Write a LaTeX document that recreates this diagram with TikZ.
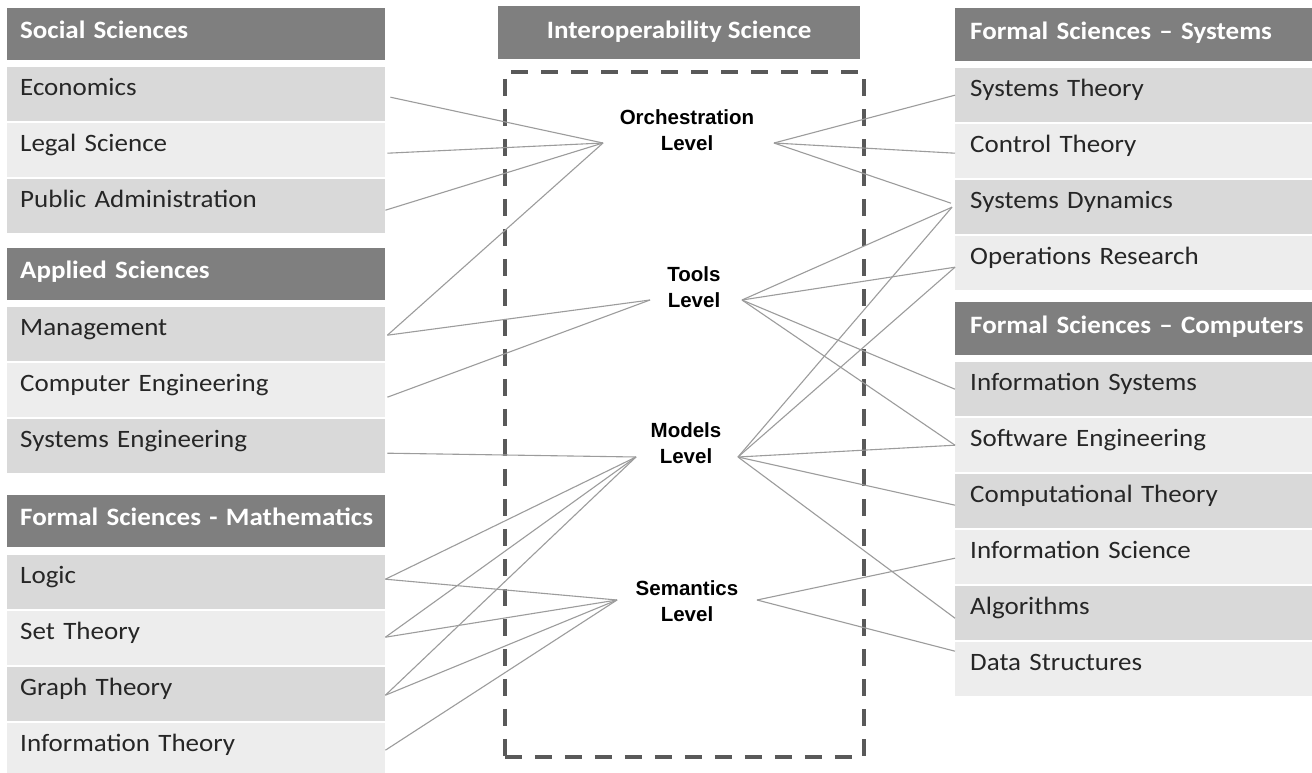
\documentclass[tikz,border=0pt]{standalone}
\usepackage{fontspec}
\setmainfont{Carlito}[FakeStretch=1.08]
\newfontfamily\lvlfont{Liberation Sans}
\usetikzlibrary{calc}
\definecolor{hdrgray}{HTML}{7F7F7F}
\definecolor{rowdark}{HTML}{D9D9D9}
\definecolor{rowlight}{HTML}{EDEDED}
\definecolor{linkgray}{HTML}{9C9C9C}
\definecolor{dashgray}{HTML}{595959}
\begin{document}
\begin{tikzpicture}[x=1pt,y=-1pt,
  bodyfont/.style={font=\fontsize{25}{30}\selectfont},
  cell/.style={anchor=north west, inner ysep=0pt, text height=28pt, text depth=26pt, align=left, bodyfont},
  lcell/.style={cell, minimum width=378pt, text width=352pt, inner xsep=13pt},
  rcell/.style={cell, minimum width=357pt, text width=327pt, inner xsep=15pt},
  dark/.style={fill=rowdark, text=black!85},
  light/.style={fill=rowlight, text=black!85},
  hdr/.style={fill=hdrgray, text=white, font=\fontsize{25}{30}\selectfont\bfseries, text height=30pt, text depth=22pt},
  lvl/.style={align=center, font=\lvlfont\bfseries\fontsize{20.5}{26}\selectfont, inner sep=0pt},
  conn/.style={draw=linkgray, line width=1.1pt},
  dashbox/.style={draw=dashgray, line width=3.8pt, dash pattern=on 17pt off 13pt}
]
\useasboundingbox (0,0) rectangle (1312,773);
\fill[white] (0,0) rectangle (1312,773);

% ---------------- left column ----------------
\node[lcell,hdr]   (soc)   at (7,8)   {\mbox{Social Sciences}};
\node[lcell,dark]  (econ)  at (7,67)  {Economics};
\node[lcell,light] (legal) at (7,123) {Legal Science};
\node[lcell,dark]  (pa)    at (7,179) {Public Administration};

\node[lcell,hdr]   (app)   at (7,248) {\mbox{Applied Sciences}};
\node[lcell,dark]  (mgmt)  at (7,307) {Management};
\node[lcell,light] (ceng)  at (7,363) {Computer Engineering};
\node[lcell,dark]  (seng)  at (7,419) {Systems Engineering};

\node[lcell,hdr]   (math)  at (7,495) {\mbox{Formal Sciences - Mathematics}};
\node[lcell,dark]  (logic) at (7,555) {Logic};
\node[lcell,light] (set)   at (7,611) {Set Theory};
\node[lcell,dark]  (graph) at (7,667) {Graph Theory};
\node[lcell,light] (infot) at (7,723) {Information Theory};

% ---------------- right column ----------------
\node[rcell,hdr,text height=31pt,text depth=22pt] (sys)   at (955,8)   {\mbox{Formal Sciences -- Systems}};
\node[rcell,dark]  (st)    at (955,68)  {Systems Theory};
\node[rcell,light] (ct)    at (955,124) {Control Theory};
\node[rcell,dark]  (sd)    at (955,180) {Systems Dynamics};
\node[rcell,light] (or)    at (955,236) {Operations Research};

\node[rcell,hdr,text height=31pt,text depth=22pt] (comp)  at (955,302) {\mbox{Formal Sciences -- Computers}};
\node[rcell,dark]  (is)    at (955,362) {Information Systems};
\node[rcell,light] (se)    at (955,418) {Software Engineering};
\node[rcell,dark]  (cth)   at (955,474) {Computational Theory};
\node[rcell,light] (isci)  at (955,530) {Information Science};
\node[rcell,dark]  (alg)   at (955,586) {Algorithms};
\node[rcell,light] (ds)    at (955,642) {Data Structures};

% ---------------- centre ----------------
\node[hdr, anchor=north west, minimum width=362pt, inner xsep=0pt, inner ysep=0pt, text height=32pt, text depth=21pt] (iop) at (498,6) {Interoperability Science};
\node[dashbox, anchor=north west, minimum width=359pt, minimum height=685pt, inner sep=0pt] (frame) at (503,70) {};

\node[lvl] (orch) at (687,130) {Orchestration\\Level};
\node[lvl] (tools) at (694,287) {Tools\\Level};
\node[lvl] (models) at (686,443) {Models\\Level};
\node[lvl] (sem) at (687,601) {Semantics\\Level};

\coordinate (oL) at (603,143);
\coordinate (oR) at (774,143);
\coordinate (tL) at (650,300);
\coordinate (tR) at (742,300);
\coordinate (mL) at (636,457);
\coordinate (mR) at (738,457);
\coordinate (sL) at (617,600);
\coordinate (sR) at (757,600);

% ---------------- connectors ----------------
\draw[conn] ($(econ.east)+(5,3)$) -- (oL);
\draw[conn] ($(legal.east)+(2,3)$) -- (oL);
\draw[conn] ($(pa.east)+(0,4)$) -- (oL);
\draw[conn] ($(mgmt.east)+(2,1)$) -- (oL);
\draw[conn] (oR) -- ($(st.west)+(0,0)$);
\draw[conn] (oR) -- ($(ct.west)+(0,2)$);
\draw[conn] (oR) -- ($(sd.west)+(-4,-4)$);

\draw[conn] ($(mgmt.east)+(2,1)$) -- (tL);
\draw[conn] ($(ceng.east)+(2,7)$) -- (tL);
\draw[conn] (tR) -- ($(sd.west)+(-3,0)$);
\draw[conn] (tR) -- ($(or.west)+(0,4)$);
\draw[conn] (tR) -- ($(is.west)+(0,0)$);
\draw[conn] (tR) -- ($(se.west)+(0,0)$);

\draw[conn] ($(seng.east)+(2,7)$) -- (mL);
\draw[conn] ($(logic.east)+(0,-3)$) -- (mL);
\draw[conn] ($(set.east)+(0,-1)$) -- (mL);
\draw[conn] ($(graph.east)+(0,1)$) -- (mL);
\draw[conn] (mR) -- ($(sd.west)+(-3,0)$);
\draw[conn] (mR) -- ($(or.west)+(0,4)$);
\draw[conn] (mR) -- ($(se.west)+(0,0)$);
\draw[conn] (mR) -- ($(cth.west)+(0,4)$);
\draw[conn] (mR) -- ($(alg.west)+(0,5)$);

\draw[conn] ($(logic.east)+(0,-3)$) -- (sL);
\draw[conn] ($(set.east)+(0,-1)$) -- (sL);
\draw[conn] ($(graph.east)+(0,1)$) -- (sL);
\draw[conn] ($(infot.east)+(0,0)$) -- (sL);
\draw[conn] (sR) -- ($(isci.west)+(0,1)$);
\draw[conn] (sR) -- ($(ds.west)+(0,-18)$);
\end{tikzpicture}
\end{document}
